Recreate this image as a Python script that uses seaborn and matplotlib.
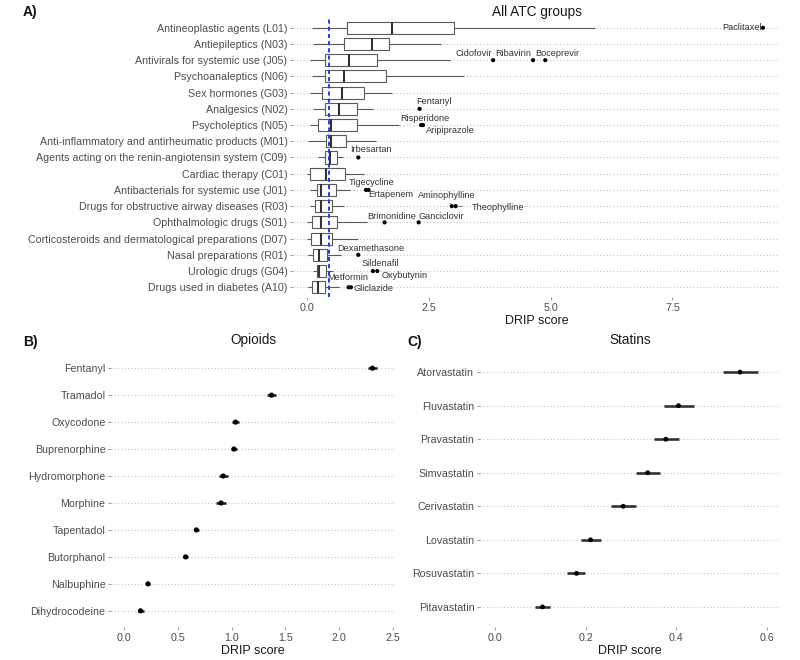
import numpy as np
import pandas as pd
import matplotlib
matplotlib.use("Agg")
import matplotlib.pyplot as plt
import seaborn as sns

sns.set_theme(style="white")
plt.rcParams["font.family"] = ["Liberation Sans", "DejaVu Sans"]

# ── Panel A: DRIP score distribution per ATC group ───────────────────────────
atc_groups = [
    "Antineoplastic agents (L01)",
    "Antiepileptics (N03)",
    "Antivirals for systemic use (J05)",
    "Psychoanaleptics (N06)",
    "Sex hormones (G03)",
    "Analgesics (N02)",
    "Psycholeptics (N05)",
    "Anti-inflammatory and antirheumatic products (M01)",
    "Agents acting on the renin-angiotensin system (C09)",
    "Cardiac therapy (C01)",
    "Antibacterials for systemic use (J01)",
    "Drugs for obstructive airway diseases (R03)",
    "Ophthalmologic drugs (S01)",
    "Corticosteroids and dermatological preparations (D07)",
    "Nasal preparations (R01)",
    "Urologic drugs (G04)",
    "Drugs used in diabetes (A10)",
]
atc_whislo = [0.10, 0.13, 0.05, 0.10, 0.06, 0.12, 0.05, 0.01, 0.22, 0.00, 0.06, 0.06, 0.00, 0.00, 0.02, 0.13, 0.02]
atc_q1     = [0.81, 0.76, 0.36, 0.36, 0.30, 0.36, 0.23, 0.38, 0.36, 0.06, 0.20, 0.16, 0.10, 0.08, 0.13, 0.20, 0.11]
atc_median = [1.75, 1.33, 0.86, 0.76, 0.72, 0.66, 0.49, 0.49, 0.46, 0.39, 0.29, 0.28, 0.29, 0.28, 0.25, 0.25, 0.23]
atc_q3     = [3.02, 1.69, 1.44, 1.62, 1.16, 1.03, 1.03, 0.80, 0.61, 0.78, 0.60, 0.51, 0.61, 0.51, 0.40, 0.39, 0.36]
atc_whishi = [5.91, 2.75, 2.94, 3.22, 1.74, 1.36, 1.88, 1.42, 0.74, 1.17, 0.88, 0.75, 1.23, 1.05, 0.69, 0.54, 0.66]
drip_reference = 0.45

outlier_group = [
    "Antineoplastic agents (L01)",
    "Antivirals for systemic use (J05)", "Antivirals for systemic use (J05)",
    "Antivirals for systemic use (J05)",
    "Analgesics (N02)",
    "Psycholeptics (N05)", "Psycholeptics (N05)",
    "Agents acting on the renin-angiotensin system (C09)",
    "Antibacterials for systemic use (J01)", "Antibacterials for systemic use (J01)",
    "Drugs for obstructive airway diseases (R03)", "Drugs for obstructive airway diseases (R03)",
    "Ophthalmologic drugs (S01)", "Ophthalmologic drugs (S01)",
    "Nasal preparations (R01)",
    "Urologic drugs (G04)", "Urologic drugs (G04)",
    "Drugs used in diabetes (A10)", "Drugs used in diabetes (A10)",
]
outlier_drug = [
    "Paclitaxel", "Cidofovir", "Ribavirin", "Boceprevir", "Fentanyl",
    "Risperidone", "Aripiprazole", "Irbesartan", "Tigecycline", "Ertapenem",
    "Aminophylline", "Theophylline", "Brimonidine", "Ganciclovir",
    "Dexamethasone", "Sildenafil", "Oxybutynin", "Metformin", "Gliclazide",
]
outlier_value = [
    9.36, 3.82, 4.64, 4.89, 2.31,
    2.34, 2.38, 1.05, 1.21, 1.26,
    2.97, 3.05, 1.59, 2.29,
    1.05, 1.35, 1.44, 0.85, 0.90,
]

# ── Panel B: opioids ──────────────────────────────────────────────────────────
opioid_names = ["Fentanyl", "Tramadol", "Oxycodone", "Buprenorphine", "Hydromorphone",
                "Morphine", "Tapentadol", "Butorphanol", "Nalbuphine", "Dihydrocodeine"]
opioid_score = [2.31, 1.37, 1.035, 1.02, 0.92, 0.90, 0.67, 0.57, 0.22, 0.15]
opioid_lo    = [2.27, 1.325, 1.005, 0.992, 0.878, 0.855, 0.648, 0.545, 0.200, 0.122]
opioid_hi    = [2.35, 1.415, 1.068, 1.048, 0.962, 0.945, 0.692, 0.595, 0.242, 0.178]

# ── Panel C: statins ──────────────────────────────────────────────────────────
statin_names = ["Atorvastatin", "Fluvastatin", "Pravastatin", "Simvastatin",
                "Cerivastatin", "Lovastatin", "Rosuvastatin", "Pitavastatin"]
statin_score = [0.541, 0.405, 0.377, 0.337, 0.283, 0.211, 0.180, 0.105]
statin_lo    = [0.504, 0.372, 0.350, 0.311, 0.256, 0.190, 0.160, 0.088]
statin_hi    = [0.580, 0.440, 0.407, 0.364, 0.311, 0.234, 0.199, 0.121]

# label offsets (pixels, text centre relative to its point) -- styling only
label_offsets = {
    "Paclitaxel": (-21, 0), "Cidofovir": (-19, 7), "Ribavirin": (-20, 7),
    "Boceprevir": (12, 7), "Fentanyl": (14, 7), "Risperidone": (4, 7),
    "Aripiprazole": (27, -5), "Irbesartan": (13, 8), "Tigecycline": (6, 7),
    "Ertapenem": (22, -5), "Aminophylline": (-5, 11), "Theophylline": (42, -1),
    "Brimonidine": (7, 6), "Ganciclovir": (23, 6), "Dexamethasone": (13, 6),
    "Sildenafil": (7, 8), "Oxybutynin": (27, -4), "Metformin": (-1, 10),
    "Gliclazide": (23, -1),
}
with_segment = {"Aminophylline", "Theophylline", "Metformin"}

TXT = "#4d4d4d"
DARK = "#1a1a1a"
GRIDC = "#c4c4c4"

W, H = 800, 660
fig = plt.figure(figsize=(W / 100, H / 100), dpi=100)


def px_axes(x0, y0, x1, y1):
    return fig.add_axes([x0 / W, 1 - y1 / H, (x1 - x0) / W, (y1 - y0) / H])


def style(ax, title, labels, title_pad):
    n = len(labels)
    ax.set_yticks(np.arange(n))
    ax.set_yticklabels(labels)
    ax.set_ylim(n - 1 + 0.6, -0.6)
    ax.set_title(title, fontsize=9.8, color=DARK, pad=title_pad)
    ax.set_xlabel("DRIP score", fontsize=9, color=DARK, labelpad=1.5)
    ax.set_ylabel("")
    ax.tick_params(axis="both", which="major", left=True, bottom=True,
                   labelsize=7.7, labelcolor=TXT, color="#8a8a8a",
                   length=2.5, width=0.6, pad=1.5)
    ax.grid(False)
    ax.yaxis.grid(True, linestyle=(0, (1, 2)), color=GRIDC, linewidth=0.8)
    ax.set_axisbelow(True)
    for s in ax.spines.values():
        s.set_visible(False)


# ════════════════════════════════════════════════════════════════
#  A) All ATC groups
# ════════════════════════════════════════════════════════════════
axA = px_axes(293, 18, 780, 297)

rows = []
for i, g in enumerate(atc_groups):
    for v in (atc_whislo[i], atc_q1[i], atc_median[i], atc_q3[i], atc_whishi[i]):
        rows.append({"pos": i, "score": v})
box_df = pd.DataFrame(rows)

sns.boxplot(
    data=box_df, x="score", y="pos", orient="h", ax=axA,
    whis=(0, 100), showfliers=False, showcaps=False, width=0.75,
    color="white", linecolor="#5a5a5a", linewidth=0.8,
    medianprops={"color": "#333333", "linewidth": 1.5},
)

out_pos = [atc_groups.index(g) for g in outlier_group]
sns.scatterplot(x=outlier_value, y=out_pos, ax=axA, color="black", s=9,
                edgecolor="none", zorder=4)

axA.axvline(drip_reference, color="#1d3cf5", linestyle=(0, (2.1, 1.6)), lw=1.4, zorder=5)

for name, val, yp in zip(outlier_drug, outlier_value, out_pos):
    dx, dy = label_offsets[name]
    arrow = None
    if name in with_segment:
        arrow = dict(arrowstyle="-", color="#555555", lw=0.5, shrinkA=4, shrinkB=2)
    axA.annotate(name, xy=(val, yp), xytext=(dx, dy), textcoords="offset pixels",
                 ha="center", va="center", fontsize=6.6, color="#333333",
                 arrowprops=arrow, zorder=6)

axA.set_xlim(-0.29, 9.71)
axA.set_xticks([0, 2.5, 5.0, 7.5])
axA.set_xticklabels(["0.0", "2.5", "5.0", "7.5"])
style(axA, "All ATC groups", atc_groups, 1.5)

# ════════════════════════════════════════════════════════════════
#  B) Opioids
# ════════════════════════════════════════════════════════════════
axB = px_axes(111, 352, 395, 627)
opi_pos = np.arange(len(opioid_names))
axB.hlines(opi_pos, opioid_lo, opioid_hi, color="#1a1a1a", lw=1.8, zorder=3)
sns.scatterplot(x=opioid_score, y=opi_pos, ax=axB, color="black", s=14,
                edgecolor="none", zorder=4)
axB.set_xlim(-0.125, 2.52)
axB.set_xticks([0, 0.5, 1.0, 1.5, 2.0, 2.5])
axB.set_xticklabels(["0.0", "0.5", "1.0", "1.5", "2.0", "2.5"])
style(axB, "Opioids", opioid_names, 6)

# ════════════════════════════════════════════════════════════════
#  C) Statins
# ════════════════════════════════════════════════════════════════
axC = px_axes(480, 352, 780, 627)
sta_pos = np.arange(len(statin_names))
axC.hlines(sta_pos, statin_lo, statin_hi, color="#333333", lw=1.9, zorder=3)
sns.scatterplot(x=statin_score, y=sta_pos, ax=axC, color="black", s=12,
                edgecolor="none", zorder=4)
axC.set_xlim(-0.033, 0.629)
axC.set_xticks([0, 0.2, 0.4, 0.6])
axC.set_xticklabels(["0.0", "0.2", "0.4", "0.6"])
style(axC, "Statins", statin_names, 6)

# panel tags
for tag, x, y in [("A)", 30, 12), ("B)", 30, 342), ("C)", 415, 342)]:
    fig.text(x / W, 1 - y / H, tag, fontsize=10, fontweight="bold", color="#111111",
             ha="center", va="center")

fig.savefig("out.png", dpi=100, facecolor="white")
plt.close(fig)
